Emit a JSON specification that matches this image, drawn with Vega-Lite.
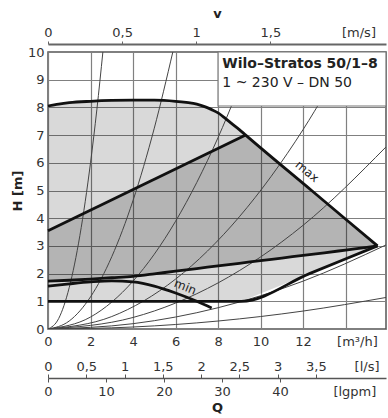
{
  "$schema": "https://vega.github.io/schema/vega-lite/v6.json",
  "width": 338,
  "height": 277,
  "autosize": {"type": "none"},
  "padding": {"left": 48, "top": 52, "right": 2, "bottom": 89},
  "background": "white",
  "config": {
    "view": {"stroke": "#555", "strokeWidth": 1.5},
    "font": "DejaVu Sans",
    "axis": {
      "labelFont": "DejaVu Sans", "labelFontSize": 13, "labelColor": "#333",
      "titleFont": "DejaVu Sans", "titleFontSize": 13, "titleColor": "#222", "titleFontWeight": "bold"
    }
  },
  "datasets": {
    "regions": [
      {"region": "light", "Q": 0, "Hhi": 8.05, "Hlo": 1},
      {"region": "light", "Q": 0.5, "Hhi": 8.12, "Hlo": 1},
      {"region": "light", "Q": 1, "Hhi": 8.17, "Hlo": 1},
      {"region": "light", "Q": 2, "Hhi": 8.22, "Hlo": 1},
      {"region": "light", "Q": 3, "Hhi": 8.25, "Hlo": 1},
      {"region": "light", "Q": 4, "Hhi": 8.26, "Hlo": 1},
      {"region": "light", "Q": 5, "Hhi": 8.26, "Hlo": 1},
      {"region": "light", "Q": 6, "Hhi": 8.22, "Hlo": 1},
      {"region": "light", "Q": 6.5, "Hhi": 8.18, "Hlo": 1},
      {"region": "light", "Q": 7, "Hhi": 8.12, "Hlo": 1},
      {"region": "light", "Q": 7.4, "Hhi": 8.02, "Hlo": 1},
      {"region": "light", "Q": 7.7, "Hhi": 7.92, "Hlo": 1},
      {"region": "light", "Q": 8.0, "Hhi": 7.8, "Hlo": 1},
      {"region": "light", "Q": 8.3, "Hhi": 7.63, "Hlo": 1},
      {"region": "light", "Q": 8.6, "Hhi": 7.44, "Hlo": 1},
      {"region": "light", "Q": 9.0, "Hhi": 7.2, "Hlo": 1},
      {"region": "light", "Q": 9.1, "Hhi": 7.13, "Hlo": 1},
      {"region": "light", "Q": 9.3, "Hhi": 7.0, "Hlo": 1.06},
      {"region": "light", "Q": 10, "Hhi": 6.55, "Hlo": 1.28},
      {"region": "light", "Q": 11, "Hhi": 5.9, "Hlo": 1.59},
      {"region": "light", "Q": 12, "Hhi": 5.26, "Hlo": 1.91},
      {"region": "light", "Q": 13, "Hhi": 4.61, "Hlo": 2.22},
      {"region": "light", "Q": 14, "Hhi": 3.97, "Hlo": 2.53},
      {"region": "light", "Q": 15, "Hhi": 3.32, "Hlo": 2.84},
      {"region": "light", "Q": 15.5, "Hhi": 3.0, "Hlo": 3.0},
      {"region": "dark", "Q": 0, "Hhi": 3.55, "Hlo": 1.73},
      {"region": "dark", "Q": 1, "Hhi": 3.92, "Hlo": 1.76},
      {"region": "dark", "Q": 2, "Hhi": 4.29, "Hlo": 1.8},
      {"region": "dark", "Q": 3, "Hhi": 4.66, "Hlo": 1.85},
      {"region": "dark", "Q": 4, "Hhi": 5.03, "Hlo": 1.9},
      {"region": "dark", "Q": 5, "Hhi": 5.4, "Hlo": 1.99},
      {"region": "dark", "Q": 6, "Hhi": 5.77, "Hlo": 2.09},
      {"region": "dark", "Q": 7, "Hhi": 6.15, "Hlo": 2.18},
      {"region": "dark", "Q": 8, "Hhi": 6.52, "Hlo": 2.28},
      {"region": "dark", "Q": 9, "Hhi": 6.89, "Hlo": 2.37},
      {"region": "dark", "Q": 9.3, "Hhi": 7.0, "Hlo": 2.4},
      {"region": "dark", "Q": 10, "Hhi": 6.55, "Hlo": 2.47},
      {"region": "dark", "Q": 11, "Hhi": 5.9, "Hlo": 2.56},
      {"region": "dark", "Q": 12, "Hhi": 5.26, "Hlo": 2.66},
      {"region": "dark", "Q": 13, "Hhi": 4.61, "Hlo": 2.75},
      {"region": "dark", "Q": 14, "Hhi": 3.97, "Hlo": 2.85},
      {"region": "dark", "Q": 15, "Hhi": 3.32, "Hlo": 2.95},
      {"region": "dark", "Q": 15.5, "Hhi": 3.0, "Hlo": 3.0}
    ],
    "system": [
      {"k": "a", "Q": 0, "H": 0}, {"k": "a", "Q": 0.5, "H": 0.375}, {"k": "a", "Q": 1, "H": 1.5}, {"k": "a", "Q": 1.5, "H": 3.375}, {"k": "a", "Q": 2, "H": 6}, {"k": "a", "Q": 2.3, "H": 7.935}, {"k": "a", "Q": 2.582, "H": 10},
      {"k": "b", "Q": 0, "H": 0}, {"k": "b", "Q": 1, "H": 0.29}, {"k": "b", "Q": 2, "H": 1.16}, {"k": "b", "Q": 3, "H": 2.61}, {"k": "b", "Q": 4, "H": 4.64}, {"k": "b", "Q": 5, "H": 7.25}, {"k": "b", "Q": 5.872, "H": 10},
      {"k": "c", "Q": 0, "H": 0}, {"k": "c", "Q": 2, "H": 0.432}, {"k": "c", "Q": 4, "H": 1.728}, {"k": "c", "Q": 6, "H": 3.888}, {"k": "c", "Q": 8, "H": 6.912}, {"k": "c", "Q": 9.623, "H": 10},
      {"k": "d", "Q": 0, "H": 0}, {"k": "d", "Q": 3, "H": 0.45}, {"k": "d", "Q": 6, "H": 1.8}, {"k": "d", "Q": 9, "H": 4.05}, {"k": "d", "Q": 12, "H": 7.2}, {"k": "d", "Q": 14.142, "H": 10},
      {"k": "e", "Q": 0, "H": 0}, {"k": "e", "Q": 4, "H": 0.416}, {"k": "e", "Q": 8, "H": 1.664}, {"k": "e", "Q": 12, "H": 3.744}, {"k": "e", "Q": 15.9, "H": 6.573},
      {"k": "f", "Q": 0, "H": 0}, {"k": "f", "Q": 4, "H": 0.192}, {"k": "f", "Q": 8, "H": 0.768}, {"k": "f", "Q": 12, "H": 1.728}, {"k": "f", "Q": 15.9, "H": 3.034},
      {"k": "g", "Q": 0, "H": 0}, {"k": "g", "Q": 4, "H": 0.072}, {"k": "g", "Q": 8, "H": 0.288}, {"k": "g", "Q": 12, "H": 0.648}, {"k": "g", "Q": 15.9, "H": 1.138}
    ],
    "curves": [
      {"curve": "max", "Q": 0, "H": 8.05}, {"curve": "max", "Q": 0.5, "H": 8.12}, {"curve": "max", "Q": 1, "H": 8.17}, {"curve": "max", "Q": 2, "H": 8.22}, {"curve": "max", "Q": 3, "H": 8.25}, {"curve": "max", "Q": 4, "H": 8.26}, {"curve": "max", "Q": 5, "H": 8.26}, {"curve": "max", "Q": 6, "H": 8.22}, {"curve": "max", "Q": 6.5, "H": 8.18}, {"curve": "max", "Q": 7, "H": 8.12}, {"curve": "max", "Q": 7.4, "H": 8.02}, {"curve": "max", "Q": 7.7, "H": 7.92}, {"curve": "max", "Q": 8.0, "H": 7.8}, {"curve": "max", "Q": 8.3, "H": 7.63}, {"curve": "max", "Q": 8.6, "H": 7.44}, {"curve": "max", "Q": 9.0, "H": 7.2}, {"curve": "max", "Q": 9.3, "H": 7.0}, {"curve": "max", "Q": 12.4, "H": 5.0}, {"curve": "max", "Q": 15.5, "H": 3.0},
      {"curve": "upper", "Q": 0, "H": 3.55}, {"curve": "upper", "Q": 9.3, "H": 7.0},
      {"curve": "lower", "Q": 0, "H": 1.73}, {"curve": "lower", "Q": 1, "H": 1.76}, {"curve": "lower", "Q": 2, "H": 1.8}, {"curve": "lower", "Q": 3, "H": 1.85}, {"curve": "lower", "Q": 4, "H": 1.9}, {"curve": "lower", "Q": 5, "H": 1.99}, {"curve": "lower", "Q": 6, "H": 2.09}, {"curve": "lower", "Q": 7, "H": 2.18}, {"curve": "lower", "Q": 8, "H": 2.28}, {"curve": "lower", "Q": 9, "H": 2.37}, {"curve": "lower", "Q": 10, "H": 2.47}, {"curve": "lower", "Q": 11, "H": 2.56}, {"curve": "lower", "Q": 12, "H": 2.66}, {"curve": "lower", "Q": 13, "H": 2.75}, {"curve": "lower", "Q": 14, "H": 2.85}, {"curve": "lower", "Q": 15, "H": 2.95}, {"curve": "lower", "Q": 15.5, "H": 3.0},
      {"curve": "bottom", "Q": 0, "H": 1.0}, {"curve": "bottom", "Q": 9.1, "H": 1.0}, {"curve": "bottom", "Q": 12.3, "H": 2.0}, {"curve": "bottom", "Q": 15.5, "H": 3.0},
      {"curve": "min", "Q": 0, "H": 1.55}, {"curve": "min", "Q": 1, "H": 1.63}, {"curve": "min", "Q": 2, "H": 1.7}, {"curve": "min", "Q": 3, "H": 1.74}, {"curve": "min", "Q": 4, "H": 1.7}, {"curve": "min", "Q": 5, "H": 1.55}, {"curve": "min", "Q": 6, "H": 1.3}, {"curve": "min", "Q": 7, "H": 1.0}, {"curve": "min", "Q": 7.7, "H": 0.76}
    ],
    "box": [{"Q": 8.0, "Q2": 15.9, "H": 8.05, "H2": 10}],
    "notes": [
      {"line": "title", "Q": 8.2, "H": 9.57, "text": "Wilo–Stratos 50/1–8"},
      {"line": "sub", "Q": 8.2, "H": 8.88, "text": "1 ~ 230 V – DN 50"},
      {"line": "max", "Q": 12.19, "H": 5.69, "text": "max"},
      {"line": "min", "Q": 6.46, "H": 1.52, "text": "min"}
    ]
  },
  "resolve": {"scale": {"x": "independent"}},
  "layer": [
    {
      "data": {"name": "regions"},
      "mark": {"type": "area", "fill": "black", "interpolate": "linear"},
      "encoding": {
        "x": {"field": "Q", "type": "quantitative", "scale": {"domain": [0, 15.9], "nice": false, "zero": false},
          "axis": {"orient": "bottom", "values": [0, 2, 4, 6, 8, 10, 12, 14], "grid": true, "gridColor": "#808080", "gridWidth": 1.2, "domain": false, "ticks": false, "labelPadding": 6, "title": null,
            "labelExpr": "datum.value == 14 ? '[m³/h]' : datum.label",
            "labelAlign": {"condition": {"test": "datum.value == 14", "value": "left"}, "value": "center"},
            "labelOffset": {"condition": {"test": "datum.value == 14", "value": -9}, "value": 0}}},
        "y": {"field": "Hhi", "type": "quantitative", "scale": {"domain": [0, 10], "nice": false},
          "axis": {"values": [0, 1, 2, 3, 4, 5, 6, 7, 8, 9, 10], "grid": true, "gridColor": "#808080", "gridWidth": 1.2, "domain": false, "ticks": false, "labelPadding": 4, "title": "H [m]", "titlePadding": 3}},
        "y2": {"field": "Hlo"},
        "detail": {"field": "region"},
        "fillOpacity": {"field": "region", "type": "nominal", "scale": {"domain": ["light", "dark"], "range": [0.15, 0.17]}, "legend": null}
      }
    },
    {
      "data": {"name": "system"},
      "mark": {"type": "line", "stroke": "#444", "strokeWidth": 1, "interpolate": "monotone", "clip": true},
      "encoding": {
        "x": {"field": "Q", "type": "quantitative", "scale": {"domain": [0, 15.9], "nice": false}, "axis": null},
        "y": {"field": "H", "type": "quantitative",
          "axis": {"values": [0, 1, 2, 3, 4, 5, 6, 7, 8, 9, 10], "grid": true, "gridColor": "#808080", "gridWidth": 1.2, "domain": false, "ticks": false, "labelPadding": 4, "title": "H [m]", "titlePadding": 3}},
        "detail": {"field": "k"}
      }
    },
    {
      "data": {"name": "curves"},
      "mark": {"type": "line", "stroke": "#111", "strokeWidth": 2.8, "interpolate": "monotone", "strokeJoin": "round", "strokeCap": "butt"},
      "encoding": {
        "x": {"field": "Q", "type": "quantitative", "scale": {"domain": [0, 15.9], "nice": false}, "axis": null},
        "y": {"field": "H", "type": "quantitative",
          "axis": {"values": [0, 1, 2, 3, 4, 5, 6, 7, 8, 9, 10], "grid": true, "gridColor": "#808080", "gridWidth": 1.2, "domain": false, "ticks": false, "labelPadding": 4, "title": "H [m]", "titlePadding": 3}},
        "detail": {"field": "curve"}
      }
    },
    {
      "data": {"name": "box"},
      "mark": {"type": "rect", "fill": "white", "stroke": "#777", "strokeWidth": 1.2},
      "encoding": {
        "x": {"field": "Q", "type": "quantitative", "scale": {"domain": [0, 15.9], "nice": false}, "axis": null},
        "x2": {"field": "Q2"},
        "y": {"field": "H", "type": "quantitative",
          "axis": {"values": [0, 1, 2, 3, 4, 5, 6, 7, 8, 9, 10], "grid": true, "gridColor": "#808080", "gridWidth": 1.2, "domain": false, "ticks": false, "labelPadding": 4, "title": "H [m]", "titlePadding": 3}},
        "y2": {"field": "H2"}
      }
    },
    {
      "data": {"name": "notes"},
      "transform": [{"filter": "datum.line == 'title'"}],
      "mark": {"type": "text", "align": "left", "baseline": "middle", "fontSize": 14, "fontWeight": "bold", "color": "#222"},
      "encoding": {
        "x": {"field": "Q", "type": "quantitative", "scale": {"domain": [0, 15.9], "nice": false}, "axis": null},
        "y": {"field": "H", "type": "quantitative",
          "axis": {"values": [0, 1, 2, 3, 4, 5, 6, 7, 8, 9, 10], "grid": true, "gridColor": "#808080", "gridWidth": 1.2, "domain": false, "ticks": false, "labelPadding": 4, "title": "H [m]", "titlePadding": 3}},
        "text": {"field": "text"}
      }
    },
    {
      "data": {"name": "notes"},
      "transform": [{"filter": "datum.line == 'sub'"}],
      "mark": {"type": "text", "align": "left", "baseline": "middle", "fontSize": 14, "color": "#222"},
      "encoding": {
        "x": {"field": "Q", "type": "quantitative", "scale": {"domain": [0, 15.9], "nice": false}, "axis": null},
        "y": {"field": "H", "type": "quantitative",
          "axis": {"values": [0, 1, 2, 3, 4, 5, 6, 7, 8, 9, 10], "grid": true, "gridColor": "#808080", "gridWidth": 1.2, "domain": false, "ticks": false, "labelPadding": 4, "title": "H [m]", "titlePadding": 3}},
        "text": {"field": "text"}
      }
    },
    {
      "data": {"name": "notes"},
      "transform": [{"filter": "datum.line == 'max'"}],
      "mark": {"type": "text", "align": "center", "baseline": "middle", "fontSize": 12, "angle": 40, "color": "#222"},
      "encoding": {
        "x": {"field": "Q", "type": "quantitative", "scale": {"domain": [0, 15.9], "nice": false}, "axis": null},
        "y": {"field": "H", "type": "quantitative",
          "axis": {"values": [0, 1, 2, 3, 4, 5, 6, 7, 8, 9, 10], "grid": true, "gridColor": "#808080", "gridWidth": 1.2, "domain": false, "ticks": false, "labelPadding": 4, "title": "H [m]", "titlePadding": 3}},
        "text": {"field": "text"}
      }
    },
    {
      "data": {"name": "notes"},
      "transform": [{"filter": "datum.line == 'min'"}],
      "mark": {"type": "text", "align": "center", "baseline": "middle", "fontSize": 12, "angle": 22, "color": "#222"},
      "encoding": {
        "x": {"field": "Q", "type": "quantitative", "scale": {"domain": [0, 15.9], "nice": false}, "axis": null},
        "y": {"field": "H", "type": "quantitative",
          "axis": {"values": [0, 1, 2, 3, 4, 5, 6, 7, 8, 9, 10], "grid": true, "gridColor": "#808080", "gridWidth": 1.2, "domain": false, "ticks": false, "labelPadding": 4, "title": "H [m]", "titlePadding": 3}},
        "text": {"field": "text"}
      }
    },
    {
      "data": {"values": [{"v": 0}]},
      "mark": {"type": "point", "opacity": 0},
      "encoding": {
        "x": {"field": "v", "type": "quantitative", "scale": {"domain": [0, 2.28], "nice": false},
          "axis": {"orient": "top", "offset": 8, "values": [0, 0.5, 1, 1.5, 2], "format": "~g", "grid": false, "domainColor": "#666", "domainWidth": 2, "tickColor": "#666", "tickSize": 3, "labelPadding": 2, "title": "v", "titlePadding": 6,
            "labelExpr": "datum.value == 2 ? '[m/s]' : replace(datum.label, '.', ',')",
            "labelAlign": {"condition": {"test": "datum.value == 2", "value": "left"}, "value": "center"},
            "labelOffset": {"condition": {"test": "datum.value == 2", "value": -3}, "value": 0},
            "tickOpacity": {"condition": {"test": "datum.value == 2", "value": 0}, "value": 1}}}
      }
    },
    {
      "data": {"values": [{"ls": 0}]},
      "mark": {"type": "point", "opacity": 0},
      "encoding": {
        "x": {"field": "ls", "type": "quantitative", "scale": {"domain": [0, 4.417], "nice": false},
          "axis": {"orient": "top", "offset": -326, "values": [0, 0.5, 1, 1.5, 2, 2.5, 3, 3.5, 4], "format": "~g", "grid": false, "domain": true, "domainColor": "#555", "domainWidth": 1.5, "tickColor": "#555", "tickSize": 4, "labelPadding": 1, "title": null,
            "labelExpr": "datum.value == 4 ? '[l/s]' : replace(datum.label, '.', ',')",
            "labelAlign": {"condition": {"test": "datum.value == 4", "value": "left"}, "value": "center"},
            "tickOpacity": {"condition": {"test": "datum.value == 4", "value": 0}, "value": 1}}}
      }
    },
    {
      "data": {"values": [{"g": 0}]},
      "mark": {"type": "point", "opacity": 0},
      "encoding": {
        "x": {"field": "g", "type": "quantitative", "scale": {"domain": [0, 58.3], "nice": false},
          "axis": {"orient": "bottom", "offset": 49, "values": [0, 10, 20, 30, 40, 50], "grid": false, "domain": false, "tickColor": "#555", "tickSize": 4, "labelPadding": 3, "title": "Q", "titlePadding": 3,
            "labelExpr": "datum.value == 50 ? '[lgpm]' : datum.label",
            "labelAlign": {"condition": {"test": "datum.value == 50", "value": "left"}, "value": "center"},
            "labelOffset": {"condition": {"test": "datum.value == 50", "value": -5}, "value": 0},
            "tickOpacity": {"condition": {"test": "datum.value == 50", "value": 0}, "value": 1}}}
      }
    }
  ]
}
